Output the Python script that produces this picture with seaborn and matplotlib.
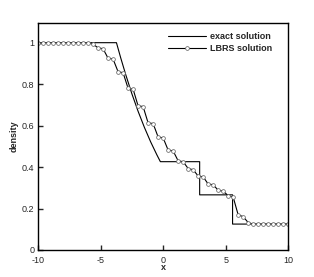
import matplotlib
matplotlib.use("Agg")
import matplotlib.pyplot as plt
import seaborn as sns
import pandas as pd

# exact solution (Sod shock tube density)
x_exact = [-10, -3.73, -3.4, -3.0, -2.5, -2.0, -1.5, -1.0, -0.5, -0.22,
           2.92, 2.92, 5.55, 5.55, 10]
rho_exact = [1.0, 1.0, 0.929, 0.848, 0.754, 0.669, 0.592, 0.522, 0.459, 0.426,
             0.426, 0.266, 0.266, 0.125, 0.125]

# LBRS numerical solution (grid spacing 0.4)
x_lbrs = [-10.0, -9.6, -9.2, -8.8, -8.4, -8.0, -7.6, -7.2, -6.8, -6.4,
          -6.0, -5.6, -5.2, -4.8, -4.4, -4.0, -3.6, -3.2, -2.8, -2.4,
          -2.0, -1.6, -1.2, -0.8, -0.4, 0.0, 0.4, 0.8, 1.2, 1.6,
          2.0, 2.4, 2.8, 3.2, 3.6, 4.0, 4.4, 4.8, 5.2, 5.6,
          6.0, 6.4, 6.8, 7.2, 7.6, 8.0, 8.4, 8.8, 9.2, 9.6, 10.0]
rho_lbrs = [1.0, 1.0, 1.0, 1.0, 1.0, 1.0, 1.0, 1.0, 1.0, 1.0,
            0.999, 0.993, 0.975, 0.971, 0.925, 0.921, 0.860, 0.855, 0.780, 0.776,
            0.695, 0.692, 0.613, 0.610, 0.545, 0.541, 0.482, 0.478, 0.430, 0.426,
            0.393, 0.387, 0.357, 0.353, 0.318, 0.315, 0.288, 0.284, 0.262, 0.255,
            0.169, 0.161, 0.132, 0.125, 0.125, 0.125, 0.125, 0.125, 0.125, 0.125, 0.125]

x_ticks = [-10, -5, 0, 5, 10]
y_ticks = [0, 0.2, 0.4, 0.6, 0.8, 1.0]
y_tick_labels = ["0", "0.2", "0.4", "0.6", "0.8", "1"]

sns.set_style("ticks")
plt.rcParams['font.family'] = ['Liberation Sans', 'DejaVu Sans']

fig = plt.figure(figsize=(3.14, 2.77), dpi=100)
ax = fig.add_axes([0.121, 0.0975, 0.797, 0.8195])

df_exact = pd.DataFrame({"x": x_exact, "rho": rho_exact})
df_lbrs = pd.DataFrame({"x": x_lbrs, "rho": rho_lbrs})

sns.lineplot(data=df_exact, x="x", y="rho", ax=ax, estimator=None, sort=False,
             color="black", linewidth=0.8, label="exact solution")
sns.lineplot(data=df_lbrs, x="x", y="rho", ax=ax, estimator=None, sort=False,
             color="black", linewidth=0.8, marker="o", markersize=2.7,
             markerfacecolor="white", markeredgecolor="#666666",
             markeredgewidth=0.55, label="LBRS solution")

ax.set_xlim(-10, 10)
ax.set_ylim(0, 1.095)
ax.set_xticks(x_ticks)
ax.set_xticklabels([str(t) for t in x_ticks])
ax.set_yticks(y_ticks)
ax.set_yticklabels(y_tick_labels)
ax.tick_params(direction="in", length=3.5, width=1.0, labelsize=6.5,
               top=False, right=False)
ax.tick_params(axis="x", pad=4.0)
ax.tick_params(axis="y", pad=2.5)
for s in ax.spines.values():
    s.set_visible(True)
    s.set_linewidth(1.0)
    s.set_color("black")

ax.set_xlabel("x", fontsize=6.5, fontweight="bold", labelpad=-1)
ax.set_ylabel("density", fontsize=6.5, fontweight="bold", labelpad=2)

leg = ax.legend(loc="upper right", bbox_to_anchor=(0.97, 1.0), frameon=False,
                fontsize=6.5, handlelength=4.2, handletextpad=0.4,
                labelspacing=0.3, borderaxespad=0.6, numpoints=1)
for t in leg.get_texts():
    t.set_fontweight("bold")

fig.savefig("out.png", dpi=100)
